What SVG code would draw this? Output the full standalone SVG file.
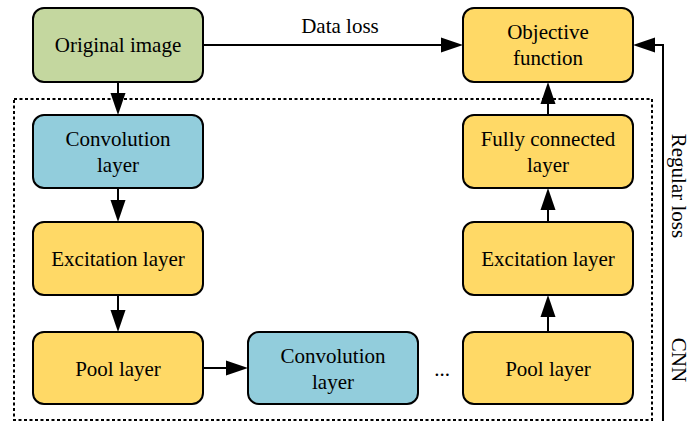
<svg xmlns="http://www.w3.org/2000/svg" width="691" height="426" viewBox="0 0 691 426">
<defs>
<style>
.n{stroke:#000;stroke-width:2}
.g{fill:#C4D79F}
.b{fill:#92CDDC}
.y{fill:#FFD966}
text{font-family:"Liberation Serif","Times New Roman",serif;font-size:21px;fill:#000;text-anchor:middle}
.c{stroke:#000;stroke-width:2;fill:none}
.h{fill:#000}
</style>
</defs>
<rect x="14" y="99" width="638" height="321" fill="none" stroke="#000" stroke-width="2" stroke-dasharray="3,2.5"/>
<g id="connectors">
<path class="c" d="M203,45 H443"/><path class="h" d="M463,45 L441,37.5 L441,52.5 Z"/>
<path class="c" d="M118,82 V95"/><path class="h" d="M118,115 L110.5,93 L125.5,93 Z"/>
<path class="c" d="M118,188 V202"/><path class="h" d="M118,222 L110.5,200 L125.5,200 Z"/>
<path class="c" d="M118,295 V312"/><path class="h" d="M118,332 L110.5,310 L125.5,310 Z"/>
<path class="c" d="M203,368 H228"/><path class="h" d="M248,368 L226,360.5 L226,375.5 Z"/>
<path class="c" d="M548,332 V315"/><path class="h" d="M548,295 L540.5,317 L555.5,317 Z"/>
<path class="c" d="M548,222 V208"/><path class="h" d="M548,188 L540.5,210 L555.5,210 Z"/>
<path class="c" d="M548,115 V102"/><path class="h" d="M548,82 L540.5,104 L555.5,104 Z"/>
<path class="c" d="M663,421 V45 H653"/><path class="h" d="M633,45 L655,37.5 L655,52.5 Z"/>
<text x="340" y="33">Data loss</text>
<text x="442" y="376">...</text>
<text transform="translate(672,186) rotate(90)">Regular loss</text>
<text transform="translate(672,360) rotate(90)">CNN</text>
</g>
<g id="original"><rect class="n g" x="33" y="8" width="170" height="74" rx="11"/><text x="118" y="52">Original image</text></g>
<g id="conv1"><rect class="n b" x="33" y="115" width="170" height="73" rx="11"/><text x="118" y="146">Convolution</text><text x="118" y="172">layer</text></g>
<g id="exc1"><rect class="n y" x="33" y="222" width="170" height="73" rx="11"/><text x="118" y="266">Excitation layer</text></g>
<g id="pool1"><rect class="n y" x="33" y="332" width="170" height="72" rx="11"/><text x="118" y="376">Pool layer</text></g>
<g id="conv2"><rect class="n b" x="248" y="332" width="170" height="72" rx="11"/><text x="333" y="363">Convolution</text><text x="333" y="389">layer</text></g>
<g id="pool2"><rect class="n y" x="463" y="332" width="170" height="72" rx="11"/><text x="548" y="376">Pool layer</text></g>
<g id="exc2"><rect class="n y" x="463" y="222" width="170" height="73" rx="11"/><text x="548" y="266">Excitation layer</text></g>
<g id="fc"><rect class="n y" x="463" y="115" width="170" height="73" rx="11"/><text x="548" y="146">Fully connected</text><text x="548" y="172">layer</text></g>
<g id="objective"><rect class="n y" x="463" y="8" width="170" height="74" rx="11"/><text x="548" y="39">Objective</text><text x="548" y="65">function</text></g>
</svg>
